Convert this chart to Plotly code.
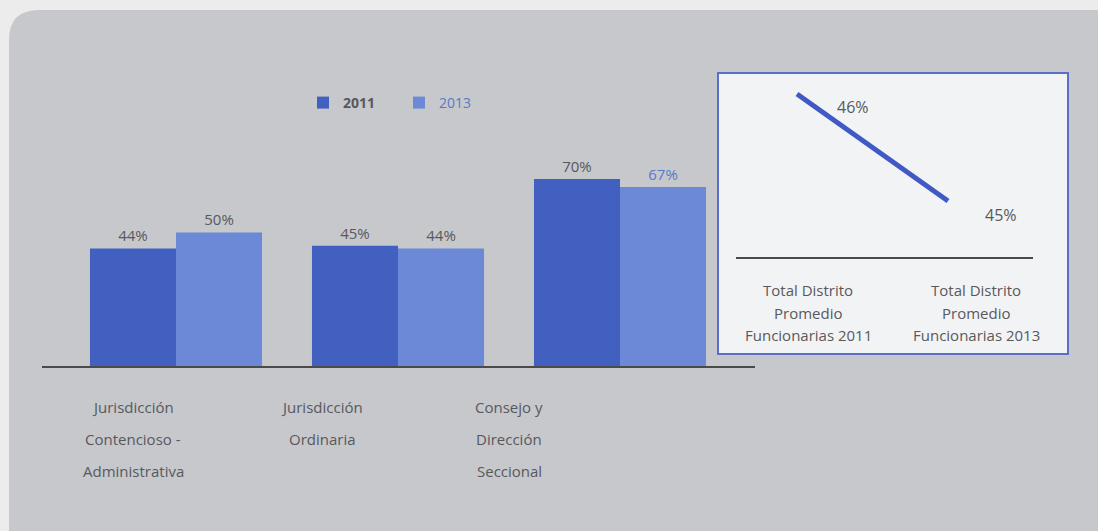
import plotly.graph_objects as go

# --- data -------------------------------------------------------------
categories = [
    ["Jurisdicción", "Contencioso -", "Administrativa"],
    ["Jurisdicción", "Ordinaria"],
    ["Consejo y", "Dirección", "Seccional"],
]
values_2011 = [44, 45, 70]
values_2013 = [50, 44, 67]

total_labels = [
    ["Total Distrito", "Promedio", "Funcionarias 2011"],
    ["Total Distrito", "Promedio", "Funcionarias 2013"],
]
total_values = [46, 45]

# --- styling ----------------------------------------------------------
W, H = 1098, 531
FONT = "Open Sans"
DARK_BLUE = "#4160c0"
LIGHT_BLUE = "#6b89d6"
LINE_BLUE = "#4059c4"
TEXT_GREY = "#58595c"
LABEL_BLUE = "#5a78c8"


def px(x):
    return x / W


def py(y):
    return 1 - y / H


fig = go.Figure()

idx = list(range(len(values_2011)))
fig.add_trace(go.Bar(
    x=idx, y=values_2011, name="<b>2011</b>",
    marker=dict(color=DARK_BLUE, line=dict(width=0)),
    text=[f"{v}%" for v in values_2011], textposition="outside",
    textfont=dict(family=FONT, size=15, color=TEXT_GREY),
    cliponaxis=False,
))
fig.add_trace(go.Bar(
    x=idx, y=values_2013,
    name=f"<span style='color:{LABEL_BLUE}'>2013</span>",
    marker=dict(color=LIGHT_BLUE, line=dict(width=0)),
    text=[f"{v}%" for v in values_2013], textposition="outside",
    textfont=dict(family=FONT, size=15,
                  color=[TEXT_GREY, TEXT_GREY, LABEL_BLUE]),
    cliponaxis=False,
))

# inset: district totals
tidx = list(range(len(total_values)))
fig.add_trace(go.Scatter(
    x=tidx, y=total_values, mode="lines", xaxis="x2", yaxis="y2",
    line=dict(color=LINE_BLUE, width=5), showlegend=False,
))

annotations = []
# category labels under the bars, one annotation per line
cat_shift = [-43, -76, -111]
for i, lines in enumerate(categories):
    for j, line in enumerate(lines):
        annotations.append(dict(
            x=i, xref="x", y=py(407 + 32 * j), yref="paper",
            xshift=cat_shift[i], text=line, showarrow=False,
            font=dict(family=FONT, size=15, color=TEXT_GREY),
            xanchor="center", yanchor="middle",
        ))

# inset labels
tot_shift = [11, 28]
for i, lines in enumerate(total_labels):
    for j, line in enumerate(lines):
        annotations.append(dict(
            x=i, xref="x2", y=py(290 + 22.5 * j), yref="paper",
            xshift=tot_shift[i], text=line, showarrow=False,
            font=dict(family=FONT, size=15, color=TEXT_GREY),
            xanchor="center", yanchor="middle",
        ))
for i, v in enumerate(total_values):
    annotations.append(dict(
        x=i, xref="x2", y=v, yref="y2", xshift=[56, 53][i],
        yshift=[-13, -14][i], text=f"{v}%", showarrow=False,
        font=dict(family=FONT, size=16, color=TEXT_GREY),
    ))

# grey panel: rounded top-left and bottom-right corners
r = 30
rb = 22
x0, x1, y0, y1 = 9, 1104, 10, 538
panel_path = (
    f"M {px(x0 + r)},{py(y0)} L {px(1120)},{py(y0)} "
    f"L {px(1120)},{py(y1 - rb - 20)} L {px(x1)},{py(y1 - rb)} "
    f"Q {px(x1)},{py(y1)} {px(x1 - rb)},{py(y1)} "
    f"L {px(x0)},{py(y1)} "
    f"L {px(x0)},{py(y0 + r)} Q {px(x0)},{py(y0)} {px(x0 + r)},{py(y0)} Z"
)
shapes = [
    dict(type="path", path=panel_path, xref="paper", yref="paper",
         fillcolor="#c6c8cc", line=dict(width=0), layer="below"),
    dict(type="rect", xref="paper", yref="paper",
         x0=px(718), x1=px(1068), y0=py(354), y1=py(73),
         fillcolor="#f2f3f5", line=dict(color="#5a6fca", width=2),
         layer="below"),
]

ypx = 187 / 70  # pixels per percentage point
fig.update_layout(
    width=W, height=H,
    margin=dict(l=0, r=0, t=0, b=0),
    paper_bgcolor="#ececec", plot_bgcolor="rgba(0,0,0,0)",
    barmode="group", bargap=0.225, bargroupgap=0,
    font=dict(family=FONT, color=TEXT_GREY),
    xaxis=dict(domain=[px(42), px(755)],
               range=[(42 - 176) / 222, (755 - 176) / 222],
               showline=True, linecolor="#4a4a4a", linewidth=1.5,
               showgrid=False, zeroline=False, showticklabels=False,
               ticks=""),
    yaxis=dict(domain=[py(366), py(150)], range=[0, (366 - 150) / ypx],
               visible=False),
    xaxis2=dict(domain=[px(736), px(1033)],
                range=[(736 - 797) / 151, (1033 - 797) / 151],
                anchor="y2", showline=True, linecolor="#4a4a4a",
                linewidth=1.5, showgrid=False, zeroline=False,
                showticklabels=False, ticks=""),
    yaxis2=dict(domain=[py(257), py(80)],
                range=[45 - (257 - 201) / 107, 46 + (94 - 80) / 107],
                anchor="x2", visible=False),
    legend=dict(orientation="h", x=px(303), y=py(103), yanchor="middle",
                xanchor="left", bgcolor="rgba(0,0,0,0)",
                font=dict(family=FONT, size=14, color=TEXT_GREY),
                entrywidth=51, entrywidthmode="pixels",
                traceorder="normal"),
    annotations=annotations,
    shapes=shapes,
)

fig.write_html("out.html")
